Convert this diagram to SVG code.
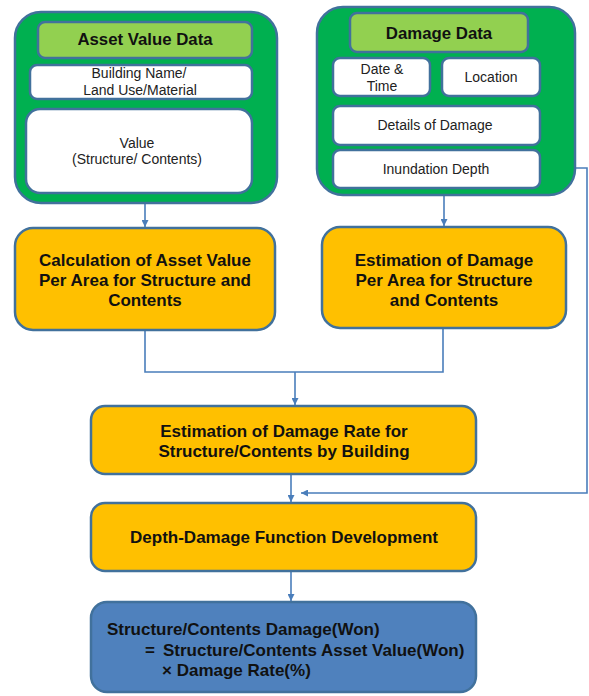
<svg xmlns="http://www.w3.org/2000/svg" width="589" height="696" viewBox="0 0 589 696">
<style>
.outer{fill:#00B050;stroke:#41719C;stroke-width:2.5}
.head{fill:#92D050;stroke:#41719C;stroke-width:2.5}
.white{fill:#FFFFFF;stroke:#41719C;stroke-width:2.5}
.orange{fill:#FFC000;stroke:#41719C;stroke-width:2.5}
.blue{fill:#4F81BD;stroke:#41719C;stroke-width:2.5}
.conn{fill:none;stroke:#4A7EBB;stroke-width:1.6}
text{font-family:"Liberation Sans","Noto Sans",Arial,sans-serif;fill:#111}
.b{font-weight:bold;text-anchor:middle;font-size:17px}
.h{font-weight:bold;text-anchor:middle;font-size:16.8px}
.s{text-anchor:middle;font-size:14px;fill:#222}
.f{font-weight:bold;font-size:17px}
</style>
<defs>
<marker id="arr" viewBox="0 0 10 10" refX="10" refY="5" markerWidth="7" markerHeight="7" markerUnits="userSpaceOnUse" orient="auto">
<path d="M0,0 L10,5 L0,10 z" fill="#4A7EBB"/>
</marker>
</defs>
<g id="connectors">
<path class="conn" d="M145,203 V227" marker-end="url(#arr)"/>
<path class="conn" d="M444,195 V226" marker-end="url(#arr)"/>
<path class="conn" d="M145,331 V372 H443 V329"/>
<path class="conn" d="M295,372 V405" marker-end="url(#arr)"/>
<path class="conn" d="M291,474 V502" marker-end="url(#arr)"/>
<path class="conn" d="M540,168 H587 V493 H301" marker-end="url(#arr)"/>
<path class="conn" d="M291,571 V601" marker-end="url(#arr)"/>
</g>
<g id="asset-value-data">
<rect class="outer" x="15" y="12" width="262" height="191" rx="26"/>
<rect class="head" x="38" y="22" width="214" height="36" rx="7"/>
<text class="h" x="145" y="45">Asset Value Data</text>
<rect class="white" x="30" y="65" width="222" height="34" rx="7"/>
<text class="s" x="139" y="78">Building Name/</text>
<text class="s" x="140" y="95">Land Use/Material</text>
<rect class="white" x="26" y="109" width="226" height="84" rx="14"/>
<text class="s" x="137" y="148">Value</text>
<text class="s" x="137" y="164">(Structure/ Contents)</text>
</g>
<g id="damage-data">
<rect class="outer" x="317" y="7" width="258" height="188" rx="26"/>
<rect class="head" x="350" y="13" width="178" height="39" rx="7"/>
<text class="h" x="439" y="39">Damage Data</text>
<rect class="white" x="333" y="58" width="97" height="38" rx="7"/>
<text class="s" x="382" y="74">Date &amp;</text>
<text class="s" x="382" y="91">Time</text>
<rect class="white" x="442" y="58" width="98" height="38" rx="7"/>
<text class="s" x="491" y="82">Location</text>
<rect class="white" x="333" y="106" width="207" height="39" rx="7"/>
<text class="s" x="435" y="130">Details of Damage</text>
<rect class="white" x="333" y="150" width="207" height="38" rx="7"/>
<text class="s" x="436" y="174">Inundation Depth</text>
</g>
<g id="calc-asset-value">
<rect class="orange" x="15" y="228" width="260" height="102" rx="18"/>
<text class="b" x="145" y="266">Calculation of Asset Value</text>
<text class="b" x="145" y="286">Per Area for Structure and</text>
<text class="b" x="145" y="306">Contents</text>
</g>
<g id="estimate-damage">
<rect class="orange" x="322" y="227" width="244" height="101" rx="18"/>
<text class="b" x="444" y="266">Estimation of Damage</text>
<text class="b" x="444" y="286">Per Area for Structure</text>
<text class="b" x="444" y="306">and Contents</text>
</g>
<g id="damage-rate">
<rect class="orange" x="91" y="406" width="385" height="68" rx="14"/>
<text class="b" x="284" y="437">Estimation of Damage Rate for</text>
<text class="b" x="284" y="457">Structure/Contents by Building</text>
</g>
<g id="depth-damage">
<rect class="orange" x="91" y="503" width="385" height="68" rx="14"/>
<text class="b" x="284" y="543">Depth-Damage Function Development</text>
</g>
<g id="result">
<rect class="blue" x="91" y="602" width="385" height="90" rx="16"/>
<text class="f" x="107" y="635">Structure/Contents Damage(Won)</text>
<text class="f" x="145" y="656">=</text>
<text class="f" x="163" y="656">Structure/Contents Asset Value(Won)</text>
<text class="f" x="162" y="676">× Damage Rate(%)</text>
</g>
</svg>
